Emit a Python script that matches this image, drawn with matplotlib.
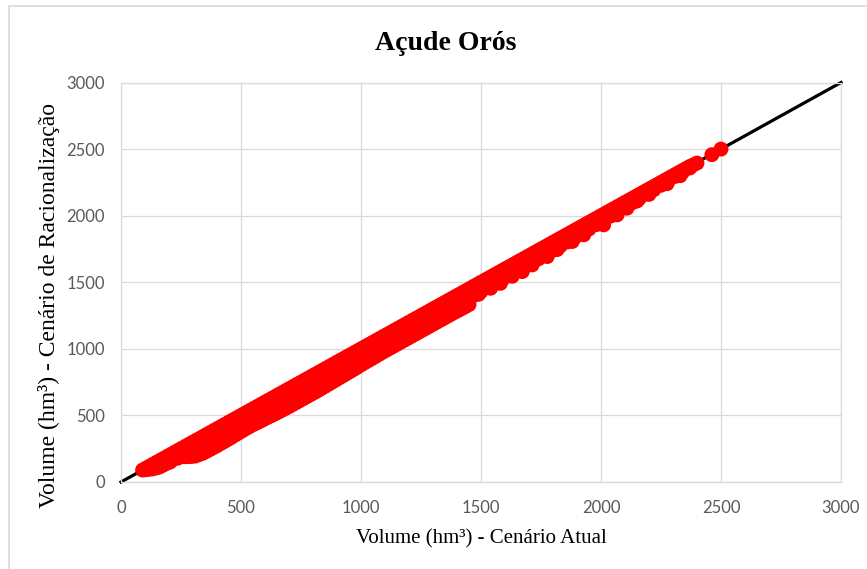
import numpy as np
import matplotlib.pyplot as plt
from matplotlib.patches import Rectangle

plt.rcParams['font.family'] = ['Lato', 'DejaVu Sans']

# Volumes simulados (hm³): cenário atual x cenário de racionalização
# faixa superior (próxima da reta 1:1)
atual_sup = [90, 105, 120, 135, 150, 165, 180, 195, 210, 225, 240, 255, 270, 285,
             300, 315, 330, 345, 360, 375, 390, 405, 420, 435, 450, 465, 480, 495,
             510, 525, 540, 555, 570, 585, 600, 615, 630, 645, 660, 675, 690, 705,
             720, 735, 750, 765, 780, 795, 810, 825, 840, 855, 870, 885, 900, 915,
             930, 945, 960, 975, 990, 1005, 1020, 1035, 1050, 1065, 1080, 1095, 1110,
             1125, 1140, 1155, 1170, 1185, 1200, 1215, 1230, 1245, 1260, 1275, 1290,
             1305, 1320, 1335, 1350, 1365, 1380, 1395, 1410, 1425, 1440, 1455, 1470,
             1485, 1500, 1515, 1530, 1545, 1560, 1575, 1590, 1605, 1620, 1635, 1650,
             1665, 1680, 1695, 1710, 1725, 1740, 1755, 1770, 1785, 1800, 1815, 1830,
             1845, 1860, 1875, 1890, 1905, 1920, 1935, 1950, 1965, 1980, 1995, 2010,
             2025, 2040, 2055, 2070, 2085, 2100, 2115, 2130, 2145, 2160, 2175, 2190,
             2205, 2220, 2235, 2250, 2265, 2280, 2295, 2310, 2325, 2340, 2355, 2370,
             2385, 2400, 2462, 2500]
racion_sup = [90, 105, 120, 135, 150, 165, 180, 195, 210, 225, 240, 255, 270, 285,
              300, 315, 330, 345, 360, 375, 390, 405, 420, 435, 450, 465, 480, 495,
              510, 525, 540, 555, 570, 585, 600, 615, 630, 645, 660, 675, 690, 705,
              720, 735, 750, 765, 780, 795, 810, 825, 840, 855, 870, 885, 900, 915,
              930, 945, 960, 975, 990, 1005, 1020, 1035, 1050, 1065, 1080, 1095, 1110,
              1125, 1140, 1155, 1170, 1185, 1200, 1215, 1230, 1245, 1260, 1275, 1290,
              1305, 1320, 1335, 1350, 1365, 1380, 1395, 1410, 1425, 1440, 1455, 1470,
              1485, 1500, 1515, 1530, 1545, 1560, 1575, 1590, 1605, 1620, 1635, 1650,
              1665, 1680, 1695, 1710, 1725, 1740, 1755, 1770, 1785, 1800, 1815, 1830,
              1845, 1860, 1875, 1890, 1905, 1920, 1935, 1950, 1965, 1980, 1995, 2010,
              2025, 2040, 2055, 2070, 2085, 2100, 2115, 2130, 2145, 2160, 2175, 2190,
              2205, 2220, 2235, 2250, 2265, 2280, 2295, 2310, 2325, 2340, 2355, 2370,
              2382, 2395, 2458, 2500]

# faixa intermediária
atual_med = [175, 205, 235, 265, 295, 325, 355, 385, 415, 445, 475, 505, 535, 565, 595,
             625, 655, 685, 715, 745, 775, 805, 835, 865, 895, 925, 955, 985, 1015,
             1045, 1075, 1105, 1135, 1165, 1195, 1225, 1255, 1285, 1315, 1345, 1375,
             1405, 1435, 1460]
racion_med = [135, 150, 178, 205, 232, 262, 292, 322, 352, 382, 412, 442, 472, 502, 532,
              562, 592, 622, 652, 682, 712, 742, 772, 802, 832, 862, 892, 922, 952,
              982, 1012, 1042, 1072, 1102, 1132, 1162, 1192, 1222, 1252, 1282, 1312,
              1342, 1372, 1395]

# faixa inferior (maiores reduções de volume)
atual_inf = [100, 115, 130, 145, 160, 175, 190, 205, 220, 235, 250, 265, 280, 295,
             310, 325, 340, 355, 370, 385, 400, 415, 430, 445, 460, 475, 490, 505,
             520, 535, 550, 565, 580, 595, 610, 625, 640, 655, 670, 685, 700, 715,
             730, 745, 760, 775, 790, 805, 820, 835, 850, 865, 880, 895, 910, 925,
             940, 955, 970, 985, 1000, 1015, 1030, 1045, 1060, 1075, 1090, 1105,
             1120, 1135, 1150, 1165, 1180, 1195, 1210, 1225, 1240, 1255, 1270, 1285,
             1300, 1315, 1330, 1345, 1360, 1375, 1390, 1405, 1420, 1435, 1450]
racion_inf = [92, 95, 98, 105, 112, 126, 140, 162, 185, 188, 190, 190, 190, 192,
              195, 205, 215, 229, 243, 258, 272, 288, 303, 319, 335, 352, 368, 384,
              400, 415, 430, 443, 456, 470, 484, 497, 510, 524, 538, 552, 566, 581,
              596, 611, 626, 641, 656, 671, 686, 702, 718, 734, 750, 766, 782, 798,
              814, 830, 846, 862, 879, 895, 911, 926, 942, 958, 974, 989,
              1004, 1019, 1034, 1049, 1064, 1079, 1094, 1109, 1124, 1139, 1154, 1169,
              1184, 1199, 1214, 1229, 1244, 1259, 1274, 1288, 1302, 1317, 1332]

# volumes altos
atual_alto = [1470, 1500, 1530, 1560, 1590, 1620, 1650, 1680, 1710, 1740, 1770, 1800,
              1830, 1860, 1890, 1920, 1950, 1980, 2010, 2040, 2070, 2100, 2130, 2160,
              2190, 2220, 2250, 2280, 2310, 2340, 2370]
racion_alto = [1400, 1430, 1460, 1490, 1522, 1552, 1583, 1614, 1645, 1676, 1707, 1740,
               1772, 1803, 1835, 1868, 1900, 1932, 1965, 1997, 2030, 2063, 2097, 2130,
               2163, 2195, 2228, 2262, 2295, 2327, 2358]

# pontos isolados abaixo da faixa
atual_iso = [1490, 1540, 1581, 1630, 1672, 1713, 1776, 1817, 1880, 1928, 2011, 2067,
             2108, 2150, 2200, 2275, 2330]
racion_iso = [1410, 1455, 1492, 1545, 1580, 1630, 1693, 1745, 1806, 1856, 1931, 2006,
              2056, 2110, 2160, 2240, 2300]

atual = np.array(atual_sup + atual_med + atual_inf + atual_alto + atual_iso)
racion = np.array(racion_sup + racion_med + racion_inf + racion_alto + racion_iso)

ticks = [0, 500, 1000, 1500, 2000, 2500, 3000]

fig = plt.figure(figsize=(8.67, 5.69), dpi=100)
fig.patches.append(Rectangle((8.5 / 867, -0.05), 1.2, 0.05 + (569 - 6) / 569,
                             transform=fig.transFigure, fill=False,
                             edgecolor='#d9d9d9', lw=1.2))

ax = fig.add_axes([121 / 867, 87 / 569, 720 / 867, 399.5 / 569])
ax.plot([0, 3000], [0, 3000], color='black', lw=2.3, zorder=2, clip_on=False)
ax.scatter(atual, racion, s=115, color='#ff0000', edgecolors='none', zorder=3)

ax.set_xlim(0, 3000)
ax.set_ylim(0, 3000)
ax.set_xticks(ticks)
ax.set_yticks(ticks)
ax.grid(color='#d9d9d9', lw=0.9)
ax.set_axisbelow(True)
for s in ax.spines.values():
    s.set_color('#d9d9d9')
    s.set_linewidth(0.9)
ax.tick_params(length=0, labelsize=12, labelcolor='#595959')
ax.tick_params(axis='x', pad=13)
ax.tick_params(axis='y', pad=11.5)

fig.text(446 / 867, 1 - 43 / 569, 'Açude Orós', family='Liberation Serif',
         weight='bold', size=20, ha='center', va='center')
fig.text(481 / 867, 1 - 543 / 569, 'Volume (hm³) - Cenário Atual',
         family='Liberation Serif', size=15, ha='center', va='baseline')
fig.text(55 / 867, 1 - 306 / 569, 'Volume (hm³) - Cenário de Racionalização',
         family='Liberation Serif', size=17, rotation=90, rotation_mode='anchor',
         ha='center', va='baseline')

fig.savefig('out.png', dpi=100)
